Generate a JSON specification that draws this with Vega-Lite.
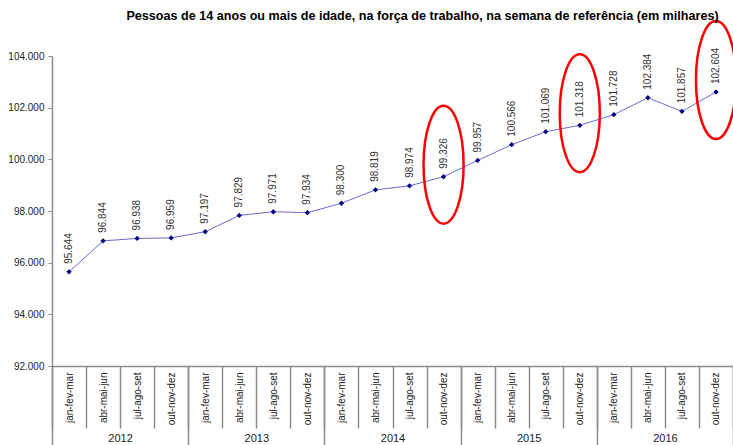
{
  "$schema": "https://vega.github.io/schema/vega-lite/v6.json",
  "width": 681,
  "height": 310,
  "autosize": {"type": "none"},
  "padding": {"left": 52, "top": 56, "right": 0, "bottom": 79},
  "background": "white",
  "config": {
    "view": {"stroke": null},
    "font": "Liberation Sans",
    "locale": {"number": {"decimal": ",", "thousands": ".", "grouping": [3], "currency": ["R$", ""]}}
  },
  "title": {
    "text": "Pessoas de 14 anos ou mais de idade, na força de trabalho, na semana de referência (em milhares)",
    "fontSize": 12.6,
    "fontWeight": "bold",
    "font": "Liberation Sans",
    "color": "#000000",
    "anchor": "middle",
    "frame": "group",
    "dx": 30,
    "baseline": "bottom",
    "offset": -19
  },
  "data": {
    "values": [
      {"periodo": "jan-fev-mar|2012", "ano": "2012", "valor": 95644, "destaque": false},
      {"periodo": "abr-mai-jun|2012", "ano": "2012", "valor": 96844, "destaque": false},
      {"periodo": "jul-ago-set|2012", "ano": "2012", "valor": 96938, "destaque": false},
      {"periodo": "out-nov-dez|2012", "ano": "2012", "valor": 96959, "destaque": false},
      {"periodo": "jan-fev-mar|2013", "ano": "2013", "valor": 97197, "destaque": false},
      {"periodo": "abr-mai-jun|2013", "ano": "2013", "valor": 97829, "destaque": false},
      {"periodo": "jul-ago-set|2013", "ano": "2013", "valor": 97971, "destaque": false},
      {"periodo": "out-nov-dez|2013", "ano": "2013", "valor": 97934, "destaque": false},
      {"periodo": "jan-fev-mar|2014", "ano": "2014", "valor": 98300, "destaque": false},
      {"periodo": "abr-mai-jun|2014", "ano": "2014", "valor": 98819, "destaque": false},
      {"periodo": "jul-ago-set|2014", "ano": "2014", "valor": 98974, "destaque": false},
      {"periodo": "out-nov-dez|2014", "ano": "2014", "valor": 99326, "destaque": true},
      {"periodo": "jan-fev-mar|2015", "ano": "2015", "valor": 99957, "destaque": false},
      {"periodo": "abr-mai-jun|2015", "ano": "2015", "valor": 100566, "destaque": false},
      {"periodo": "jul-ago-set|2015", "ano": "2015", "valor": 101069, "destaque": false},
      {"periodo": "out-nov-dez|2015", "ano": "2015", "valor": 101318, "destaque": true},
      {"periodo": "jan-fev-mar|2016", "ano": "2016", "valor": 101728, "destaque": false},
      {"periodo": "abr-mai-jun|2016", "ano": "2016", "valor": 102384, "destaque": false},
      {"periodo": "jul-ago-set|2016", "ano": "2016", "valor": 101857, "destaque": false},
      {"periodo": "out-nov-dez|2016", "ano": "2016", "valor": 102604, "destaque": true}
    ]
  },
  "layer": [
    {
      "encoding": {
        "x": {
          "field": "periodo",
          "type": "ordinal",
          "sort": null,
          "scale": {"type": "band", "paddingInner": 0, "paddingOuter": 0},
          "axis": {
            "title": null,
            "orient": "bottom",
            "labelExpr": "datum.value ? split(datum.value, '|')[0] : ''",
            "labelAngle": -90,
            "labelAlign": "right",
            "labelBaseline": "middle",
            "labelFontSize": 10,
            "labelColor": "#222222",
            "tickBand": "extent",
            "tickSize": 62,
            "tickColor": "#8c8c8c",
            "tickWidth": 1.5,
            "labelPadding": -56,
            "domainColor": "#8c8c8c",
            "domainWidth": 1.5
          }
        },
        "y": {
          "field": "valor",
          "type": "quantitative",
          "scale": {"domain": [92000, 104000], "nice": false, "zero": false},
          "axis": {
            "title": null,
            "values": [92000, 94000, 96000, 98000, 100000, 102000, 104000],
            "format": ",.0f",
            "labelFontSize": 10,
            "labelColor": "#222222",
            "labelPadding": 4,
            "tickSize": 4,
            "tickColor": "#8c8c8c",
            "domainColor": "#8c8c8c",
            "domainWidth": 1.5,
            "grid": false
          }
        }
      },
      "layer": [
        {"mark": {"type": "line", "color": "#6a6ad0", "strokeWidth": 1}},
        {"mark": {"type": "point", "shape": "diamond", "filled": true, "color": "#000080", "size": 28, "opacity": 1}},
        {
          "mark": {"type": "text", "angle": 270, "align": "left", "baseline": "middle", "dx": 8, "fontSize": 10, "color": "#333333"},
          "encoding": {"text": {"field": "valor", "type": "quantitative", "format": ",.0f"}}
        },
        {
          "transform": [{"filter": "datum.destaque"}],
          "mark": {
            "type": "point",
            "shape": "M -0.34 0 A 0.34 1 0 1 0 0.34 0 A 0.34 1 0 1 0 -0.34 0 Z",
            "filled": false,
            "stroke": "#ff0000",
            "strokeWidth": 2.5,
            "size": 13900,
            "opacity": 1,
            "yOffset": -12
          }
        }
      ]
    },
    {
      "mark": {"type": "point", "opacity": 0},
      "encoding": {
        "x": {
          "field": "ano",
          "type": "ordinal",
          "sort": null,
          "scale": {"type": "band", "paddingInner": 0, "paddingOuter": 0},
          "axis": {
            "title": null,
            "orient": "bottom",
            "labelExpr": "datum.value ? datum.value : ''",
            "labelAngle": 0,
            "labelFontSize": 11,
            "labelColor": "#222222",
            "tickBand": "extent",
            "tickSize": 80,
            "tickColor": "#8c8c8c",
            "tickWidth": 1.5,
            "labelPadding": -14,
            "domain": false
          }
        },
        "y": {"field": "valor", "type": "quantitative"}
      }
    }
  ],
  "resolve": {"scale": {"x": "independent"}, "axis": {"x": "independent"}}
}
